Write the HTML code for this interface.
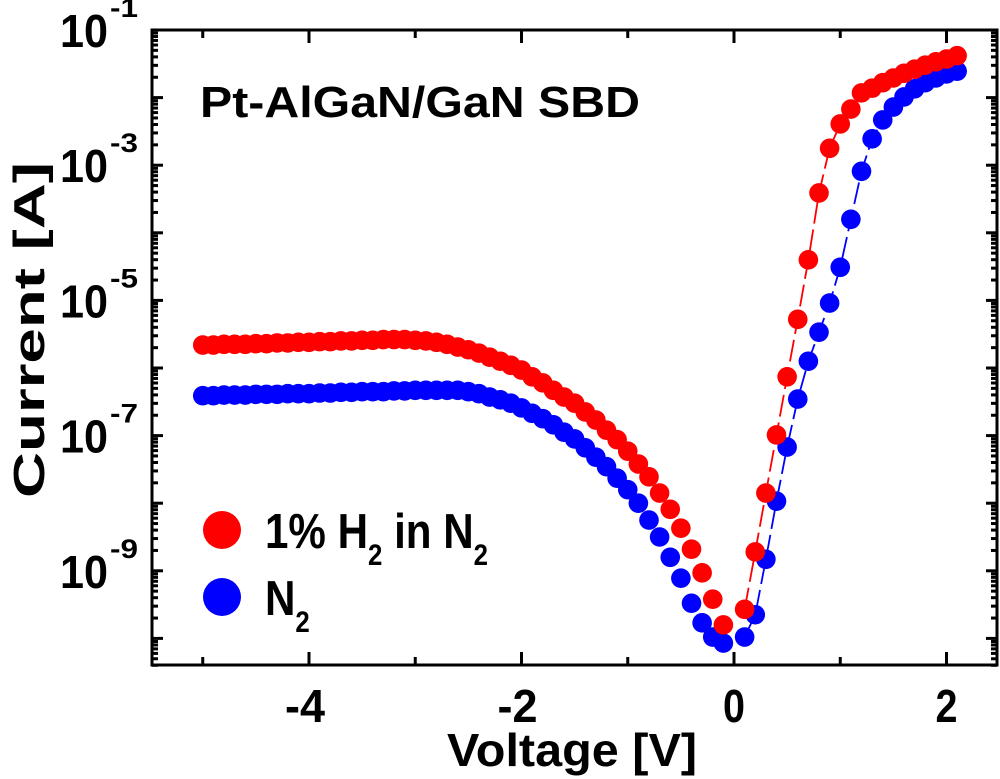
<!DOCTYPE html>
<html><head><meta charset="utf-8"><style>
body{margin:0;background:#fff;}
svg{display:block;font-family:"Liberation Sans",Arial,sans-serif;font-weight:bold;}
</style></head><body>
<svg id="chart" width="1000" height="779" viewBox="0 0 1000 779">
<g id="axes"></g>
<g id="series"></g>
<text x="200" y="117" font-size="44" textLength="440" lengthAdjust="spacingAndGlyphs">Pt-AlGaN/GaN SBD</text>
<g>
 <circle cx="222" cy="530" r="19" fill="#ff0000"/>
 <g transform="translate(265,548) scale(0.86,1)">
 <text x="0" y="0" font-size="49">1% H<tspan font-size="30" dy="17">2</tspan><tspan dy="-17"> in N</tspan><tspan font-size="30" dy="17">2</tspan></text>
 </g>
 <circle cx="222" cy="597" r="19" fill="#0000ff"/>
 <g transform="translate(265,615) scale(0.86,1)">
 <text x="0" y="0" font-size="49">N<tspan font-size="30" dy="17">2</tspan></text>
 </g>
</g>
<text x="447" y="766" font-size="46" textLength="250" lengthAdjust="spacingAndGlyphs">Voltage [V]</text>
<text transform="translate(44,498) rotate(-90)" font-size="44" textLength="336" lengthAdjust="spacingAndGlyphs">Current [A]</text>
</svg>
<script>
const voltsRev = [-5.0,-4.9,-4.8,-4.7,-4.6,-4.5,-4.4,-4.3,-4.2,-4.1,-4.0,-3.9,-3.8,-3.7,-3.6,-3.5,-3.4,-3.3,-3.2,-3.1,-3.0,-2.9,-2.8,-2.7,-2.6,-2.5,-2.4,-2.3,-2.2,-2.1,-2.0,-1.9,-1.8,-1.7,-1.6,-1.5,-1.4,-1.3,-1.2,-1.1,-1.0,-0.9,-0.8,-0.7,-0.6,-0.5,-0.4,-0.3,-0.2,-0.1];
const logH2Rev = [-5.66,-5.66,-5.65,-5.65,-5.65,-5.64,-5.64,-5.63,-5.63,-5.62,-5.62,-5.61,-5.61,-5.60,-5.60,-5.59,-5.59,-5.58,-5.58,-5.58,-5.59,-5.60,-5.62,-5.65,-5.69,-5.73,-5.78,-5.84,-5.90,-5.96,-6.03,-6.13,-6.22,-6.33,-6.43,-6.52,-6.65,-6.77,-6.92,-7.06,-7.23,-7.42,-7.61,-7.85,-8.09,-8.37,-8.68,-9.03,-9.42,-9.80];
const logN2Rev = [-6.41,-6.41,-6.40,-6.40,-6.40,-6.39,-6.39,-6.39,-6.38,-6.38,-6.38,-6.37,-6.37,-6.36,-6.36,-6.35,-6.35,-6.35,-6.34,-6.34,-6.33,-6.33,-6.33,-6.33,-6.33,-6.35,-6.38,-6.43,-6.47,-6.52,-6.59,-6.67,-6.75,-6.84,-6.95,-7.05,-7.18,-7.32,-7.46,-7.63,-7.80,-8.00,-8.25,-8.50,-8.80,-9.11,-9.48,-9.77,-9.98,-10.07];
const voltsFwd = [0.1,0.2,0.3,0.4,0.5,0.6,0.7,0.8,0.9,1.0,1.1,1.2,1.3,1.4,1.5,1.6,1.7,1.8,1.9,2.0,2.1];
const logH2Fwd = [-9.57,-8.72,-7.85,-6.99,-6.13,-5.28,-4.40,-3.41,-2.75,-2.39,-2.17,-1.93,-1.86,-1.78,-1.71,-1.64,-1.58,-1.52,-1.47,-1.43,-1.38];
const logN2Fwd = [-9.98,-9.65,-8.83,-7.97,-7.17,-6.46,-5.90,-5.47,-5.04,-4.51,-3.80,-3.09,-2.61,-2.33,-2.14,-1.99,-1.87,-1.78,-1.71,-1.65,-1.61];
const xTicks = [-4,-2,0,2];
const xMinor = [-5,-3,-1,1];
const yLabelExps = [-1,-3,-5,-7,-9];

const L=152,R=997,T=30,B=665;
const X=v=>734+v*106.25;
const Y=lg=>30+(-1-lg)*67.6;
const NS='http://www.w3.org/2000/svg';
function mk(tag,attrs,parent){const e=document.createElementNS(NS,tag);for(const k in attrs)e.setAttribute(k,attrs[k]);parent.appendChild(e);return e;}
const ax=document.getElementById('axes'), sr=document.getElementById('series');

const frame=mk('rect',{x:L,y:T,width:R-L,height:B-T,fill:'none',stroke:'#000','stroke-width':3},ax);



xTicks.forEach(v=>{
  const t1=mk('line',{x1:X(v),x2:X(v),y1:B,y2:B-13,stroke:'#000','stroke-width':3},ax);
  
  
  const t2=mk('line',{x1:X(v),x2:X(v),y1:T,y2:T+13,stroke:'#000','stroke-width':3},ax);
  
  
  const txt=(v<0?'-':'')+Math.abs(v);
  const w=v<0?40:22;
  const lb=mk('text',{x:X(v)-w/2-(v<0?4:0),y:722,'font-size':46,textLength:w,lengthAdjust:'spacingAndGlyphs'},ax);
  lb.textContent=txt;
  
  
});
xMinor.forEach(v=>{
  const t1=mk('line',{x1:X(v),x2:X(v),y1:B,y2:B-8,stroke:'#000','stroke-width':3},ax);
  
  
  const t2=mk('line',{x1:X(v),x2:X(v),y1:T,y2:T+8,stroke:'#000','stroke-width':3},ax);
  
  
});
for(let d=-11;d<=-1;d++){
  for(let m=1;m<=9;m++){
    const lg=d+Math.log10(m);
    const y=Y(lg);
    if(y<T-1||y>B+1)continue;
    const len=m===1?11:6;
    const a=mk('line',{x1:L,x2:L+len,y1:y,y2:y,stroke:'#000','stroke-width':3},ax);
    
    
    const b=mk('line',{x1:R,x2:R-len,y1:y,y2:y,stroke:'#000','stroke-width':3},ax);
    
    
  }
}
yLabelExps.forEach(e=>{
  const y=Y(e);
  const t=mk('text',{x:60,y:y+17,'font-size':46,textLength:48,lengthAdjust:'spacingAndGlyphs'},ax);
  t.textContent='10';
  
  
  const s=mk('text',{x:110,y:y-13,'font-size':27,textLength:28,lengthAdjust:'spacingAndGlyphs'},ax);
  s.textContent=String(e);
  
  
});

function line(vs,ls,color,name){
  const p=mk('polyline',{points:vs.map((v,i)=>X(v)+','+Y(ls[i])).join(' '),fill:'none',stroke:color,'stroke-width':1.8,'stroke-dasharray':'22,6'},sr);
  
  
}
line(voltsFwd,logH2Fwd,'#ff0000','h2-forward-line');
line(voltsFwd,logN2Fwd,'#0000ff','n2-forward-line');
function pts(vs,ls,color,name){
  vs.forEach((v,i)=>{
    const c=mk('circle',{cx:X(v),cy:Y(ls[i]),r:9.8,fill:color},sr);
    
    
  });
}
pts(voltsRev,logN2Rev,'#0000ff','n2-point');
pts(voltsFwd,logN2Fwd,'#0000ff','n2-point');
pts(voltsRev,logH2Rev,'#ff0000','h2-point');
pts(voltsFwd,logH2Fwd,'#ff0000','h2-point');
</script>
</body></html>
